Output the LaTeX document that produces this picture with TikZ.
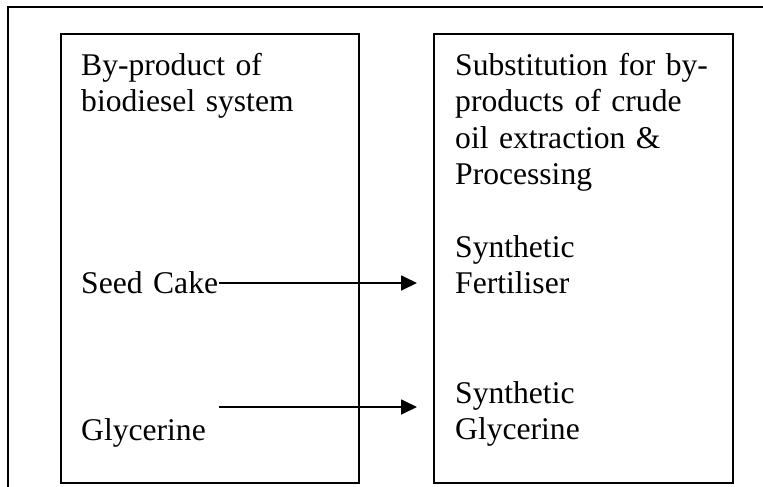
\documentclass[tikz,border=0pt]{standalone}
\usepackage{fontspec}
\setmainfont{Liberation Serif}
\usetikzlibrary{arrows.meta}
\begin{document}
\begin{tikzpicture}[x=1pt,y=-1pt,
  frame/.style={line width=1.8pt},
  panel/.style={draw,line width=1.8pt,inner sep=0pt,minimum width=298pt,minimum height=449pt,anchor=north west},
  label/.style={inner sep=0pt,anchor=base west,text width=280pt,align=left,
    font=\fontsize{31.6}{36.6}\selectfont},
  flow/.style={line width=1.8pt,-{Triangle[length=16pt,width=15pt]}}]
  \useasboundingbox (0,0) rectangle (763,487);
  % outer frame, running off the page at the right and bottom
  \draw[frame] (8,495) -- (8,7) -- (770,7);
  % the two panels
  \node[panel] (left) at (60,33) {};
  \node[panel,minimum width=299pt] (right) at (433,33) {};
  % left panel texts
  \node[label] (lhead) at (81,75) {By-product of\\biodiesel system};
  \node[label] (cake) at (81,293) {Seed Cake};
  \node[label] (glyc) at (81,440) {Glycerine};
  % right panel texts
  \node[label] (rhead) at (455,75) {Substitution for by-\\products of crude\\oil extraction \&\\Processing};
  \node[label] (fert) at (455,257) {Synthetic\\Fertiliser};
  \node[label] (sglyc) at (455,403) {Synthetic\\Glycerine};
  % arrows between the panels
  \coordinate (a1s) at (219,283);
  \coordinate (a1e) at (417,283);
  \coordinate (a2s) at (219,407);
  \coordinate (a2e) at (417,407);
  \draw[flow] (a1s) -- (a1e);
  \draw[flow] (a2s) -- (a2e);
\end{tikzpicture}
\end{document}
